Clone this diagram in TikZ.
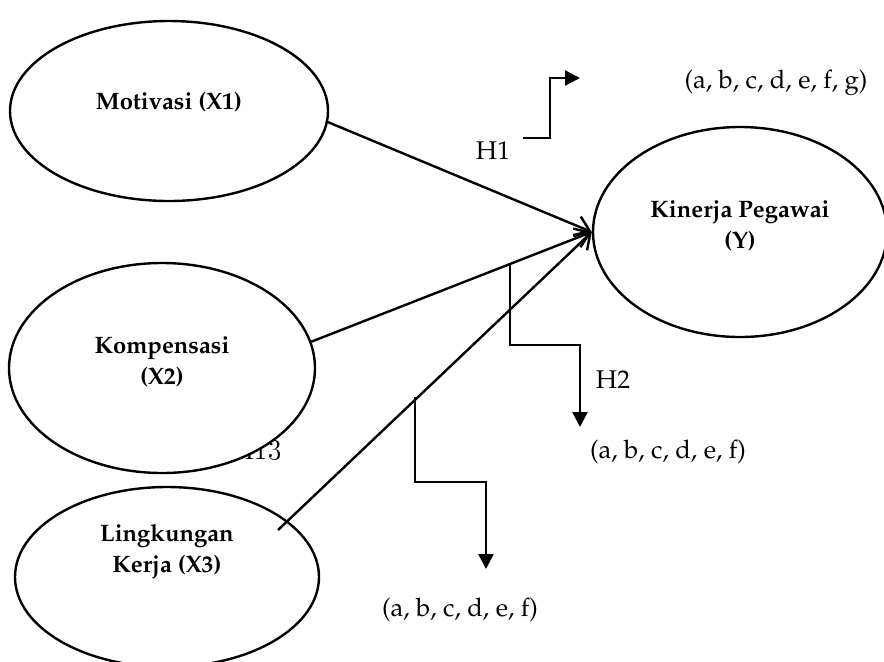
\documentclass[tikz,border=0pt]{standalone}
\usepackage[T1]{fontenc}
\usepackage{mathpazo}
\usetikzlibrary{arrows.meta,shapes.geometric}
\begin{document}
\begin{tikzpicture}[x=0.5pt,y=-0.5pt,
  ell/.style={draw,line width=1.2pt,fill=white,ellipse,inner sep=0pt},
  bl/.style={font=\fontsize{11.9}{15.5}\selectfont\bfseries,align=center,inner sep=0pt},
  lb/.style={font=\fontsize{12.8}{15}\selectfont,inner sep=0pt},
  conn/.style={line width=1.2pt,-{Straight Barb[length=7pt,width=10pt,line width=1.2pt]}},
  bent/.style={line width=1.2pt,-{Triangle[length=7.5pt,width=7.5pt]}}]
\useasboundingbox (0,0) rectangle (884,661);
% partly hidden label
\node[inner sep=0pt,font=\fontfamily{lmr}\selectfont\fontsize{14}{15}\selectfont] (h13) at (258,450) {H13};
% ellipses
\node[ell,minimum width=159pt,minimum height=90pt] (mot) at (169,111) {};
\node[ell,minimum width=153pt,minimum height=105pt] (komp) at (162,368) {};
\node[ell,minimum width=152pt,minimum height=90pt] (lk) at (167,577) {};
\node[ell,minimum width=147pt,minimum height=105pt] (kin) at (740,232) {};
% ellipse texts
\node[bl] (tmot) at (169,102) {Motivasi (X1)};
\node[bl] (tkomp) at (162,362) {Kompensasi\\(X2)};
\node[bl] (tlk) at (167,551) {Lingkungan\\Kerja (X3)};
\node[bl] (tkin) at (740,226) {Kinerja Pegawai\\(Y)};
% main arrows
\coordinate (lks) at (278,530);
\draw[conn] (mot.-4) -- (kin.west);
\draw[conn] (komp.10) -- (kin.west);
\draw[conn] (lks) -- (kin.west);
% bent arrows
\coordinate (h1s) at (523,138);
\coordinate (h1e) at (580,78);
\draw[bent] (h1s) -- ++(27,0) |- (h1e);
\coordinate (h2s) at (510,263);
\coordinate (h2e) at (580,427);
\draw[bent] (h2s) -- ++(0,82) -| (h2e);
\coordinate (h3s) at (415,397);
\coordinate (h3e) at (486,569);
\draw[bent] (h3s) -- ++(0,85) -| (h3e);
% labels
\node[lb] (lh1) at (493,151) {H1};
\node[lb] (lh2) at (613,380) {H2};
\node[lb] (g1) at (776,83) {(a, b, c, d, e, f, g)};
\node[lb] (g2) at (668,452) {(a, b, c, d, e, f)};
\node[lb] (g3) at (460,610) {(a, b, c, d, e, f)};
\end{tikzpicture}
\end{document}
